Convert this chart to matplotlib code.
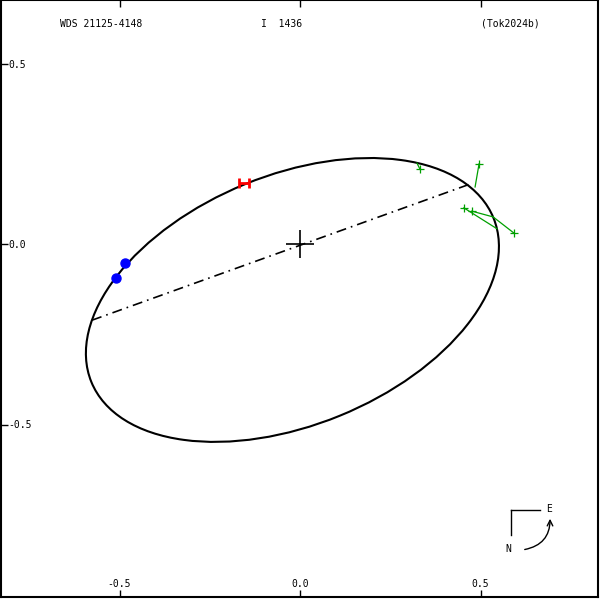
import matplotlib
matplotlib.use('Agg')
import matplotlib.pyplot as plt
from matplotlib.patches import Ellipse
from matplotlib.lines import Line2D

plt.rcParams['font.family'] = ['DejaVu Sans Mono']

# apparent orbit (arcsec)
orbit_center = (-0.021, -0.155)
orbit_width = 1.203
orbit_height = 0.693
orbit_angle = 22.2

# line of nodes
nodes_x = [-0.576, 0.471]
nodes_y = [-0.211, 0.166]

# measures (green) and their computed positions on the orbit
obs_x = [0.332, 0.496, 0.454, 0.476, 0.593]
obs_y = [0.208, 0.222, 0.100, 0.091, 0.030]
calc_x = [0.324, 0.485, 0.546, 0.535, 0.535]
calc_y = [0.224, 0.158, 0.042, 0.075, 0.075]

# blue points
dot_x = [-0.485, -0.510]
dot_y = [-0.053, -0.094]

# red H point
hst_x = [-0.155]
hst_y = [0.169]

tick_vals = [-0.5, 0.0, 0.5]
xtick_labels = ['-0.5', '0.0', '0.5']
ytick_labels = ['-0.5', '0.0', '0.5']

fig = plt.figure(figsize=(6, 6), dpi=100)
ax = fig.add_axes([1/600, 3/600, 597/600, 597/600])
ax.set_xlim(-299/361, 298/361)
ax.set_ylim(-353/361, 244/361)
ax.set_aspect('equal')

for s in ax.spines.values():
    s.set_linewidth(1.5)

ax.set_xticks(tick_vals)
ax.set_xticklabels(xtick_labels)
ax.set_yticks(tick_vals)
ax.set_yticklabels(ytick_labels)
ax.tick_params(axis='x', direction='in', length=5, width=1, top=True, bottom=True,
               pad=-13, labelsize=7)
ax.tick_params(axis='y', direction='in', length=5, width=1, left=True, right=False,
               pad=-5, labelsize=7)
for t in ax.get_yticklabels():
    t.set_horizontalalignment('left')

# orbit
ax.add_patch(Ellipse(orbit_center, orbit_width, orbit_height, angle=orbit_angle,
                     fill=False, color='black', lw=1.5))

# line of nodes
ax.plot(nodes_x, nodes_y, color='black', lw=1.2, linestyle=(0, (6, 3, 1, 3)))

# primary
ax.plot([0], [0], marker='+', color='black', ms=20, mew=1.2)

# measures
for ox, oy, cx, cy in zip(obs_x, obs_y, calc_x, calc_y):
    ax.plot([ox, cx], [oy, cy], color='#00a000', lw=0.9)
ax.plot(obs_x, obs_y, '+', color='#00a000', ms=6, mew=0.9)

ax.plot(dot_x, dot_y, 'o', color='#0000ff', ms=6.5)

ax.errorbar(hst_x, hst_y, xerr=0.014, fmt='none', ecolor='red',
            elinewidth=2, capsize=3.6, capthick=2)

# header
fig.text(60/600, 1 - 24/600, 'WDS 21125-4148', ha='left', va='center', fontsize=7)
fig.text(261/600, 1 - 24/600, 'I  1436', ha='left', va='center', fontsize=7)
fig.text(481/600, 1 - 24/600, '(Tok2024b)', ha='left', va='center', fontsize=7)

# orientation
fig.add_artist(Line2D([511/600, 540/600], [1 - 510/600, 1 - 510/600],
                      transform=fig.transFigure, color='black', lw=1))
fig.add_artist(Line2D([511/600, 511/600], [1 - 510/600, 1 - 535/600],
                      transform=fig.transFigure, color='black', lw=1))
fig.text(549/600, 1 - 509/600, 'E', ha='center', va='center', fontsize=7)
fig.text(508/600, 1 - 549/600, 'N', ha='center', va='center', fontsize=7)
ax.annotate('', xy=(550, 600 - 516), xytext=(522, 600 - 550),
            xycoords='figure pixels', textcoords='figure pixels',
            arrowprops=dict(arrowstyle='->', connectionstyle='arc3,rad=0.45',
                            color='black', lw=1))

fig.savefig('out.png', dpi=100)
